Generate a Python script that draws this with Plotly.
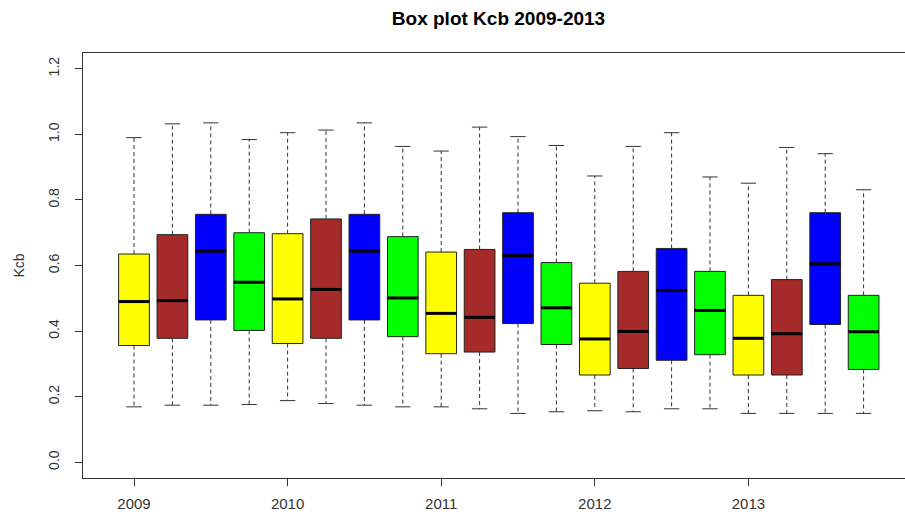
import plotly.graph_objects as go

# Kcb box statistics, four groups per year (2009-2013)
years = ["2009", "2010", "2011", "2012", "2013"]
group_colors = ["#FFFF00", "#A52A2A", "#0000FF", "#00FF00"]

lower = [0.169, 0.174, 0.174, 0.176, 0.188, 0.179, 0.174, 0.169, 0.169, 0.163,
         0.149, 0.154, 0.157, 0.154, 0.163, 0.163, 0.149, 0.149, 0.149, 0.149]
q1 = [0.356, 0.378, 0.434, 0.402, 0.362, 0.378, 0.434, 0.383, 0.331, 0.336,
      0.423, 0.359, 0.266, 0.286, 0.311, 0.328, 0.266, 0.266, 0.420, 0.283]
median = [0.490, 0.493, 0.644, 0.549, 0.498, 0.527, 0.644, 0.501, 0.454, 0.442,
          0.630, 0.471, 0.376, 0.399, 0.524, 0.463, 0.378, 0.392, 0.605, 0.398]
q3 = [0.635, 0.694, 0.756, 0.700, 0.697, 0.742, 0.756, 0.688, 0.641, 0.649,
      0.761, 0.609, 0.546, 0.582, 0.652, 0.582, 0.509, 0.557, 0.761, 0.509]
upper = [0.990, 1.032, 1.035, 0.984, 1.005, 1.013, 1.035, 0.963, 0.949, 1.022,
         0.993, 0.966, 0.873, 0.963, 1.005, 0.870, 0.851, 0.960, 0.941, 0.831]

n = len(median)
pos = list(range(1, n + 1))
colors = [group_colors[i % 4] for i in range(n)]
year_pos = [1 + 4 * i for i in range(len(years))]

BOXW = 0.8
CAPW = 0.4
FONT = "Liberation Sans, Arial, sans-serif"

fig = go.Figure()

# boxes (Q1 to Q3)
fig.add_trace(go.Bar(
    x=pos, y=[b - a for a, b in zip(q1, q3)], base=q1, width=BOXW,
    marker=dict(color=colors, line=dict(color="#222222", width=1)),
    hoverinfo="skip", showlegend=False,
))

# dashed whiskers
wx, wy = [], []
for p, lo, a, b, hi in zip(pos, lower, q1, q3, upper):
    wx += [p, p, None, p, p, None]
    wy += [b, hi, None, a, lo, None]
fig.add_trace(go.Scatter(x=wx, y=wy, mode="lines", hoverinfo="skip",
                         line=dict(color="#333333", width=1, dash="4px,3px"),
                         showlegend=False))

# whisker caps
cx, cy = [], []
for p, lo, hi in zip(pos, lower, upper):
    cx += [p - CAPW / 2, p + CAPW / 2, None, p - CAPW / 2, p + CAPW / 2, None]
    cy += [hi, hi, None, lo, lo, None]
fig.add_trace(go.Scatter(x=cx, y=cy, mode="lines", hoverinfo="skip",
                         line=dict(color="#333333", width=1), showlegend=False))

# medians
mx, my = [], []
for p, m in zip(pos, median):
    mx += [p - BOXW / 2, p + BOXW / 2, None]
    my += [m, m, None]
fig.add_trace(go.Scatter(x=mx, y=my, mode="lines", hoverinfo="skip",
                         line=dict(color="#000000", width=3), showlegend=False))

W, H = 905, 516
ML, MR, MT, MB = 83, 0, 53, 38
px_per_box = 38.4
x0 = 1 - (134 - ML) / px_per_box
x1 = x0 + (W - ML - MR) / px_per_box

fig.update_layout(
    width=W, height=H,
    margin=dict(l=ML, r=MR, t=MT, b=MB),
    paper_bgcolor="white", plot_bgcolor="white",
    font=dict(family=FONT, size=14, color="#333333"),
    barmode="overlay",
    title=dict(text="<b>Box plot Kcb 2009-2013</b>", x=(498.5 - ML) / (W - ML - MR),
               xref="paper", xanchor="center", yref="container",
               y=1 - 18.5 / H, yanchor="middle",
               font=dict(family=FONT, size=19, color="#000000")),
    xaxis=dict(range=[x0, x1], tickvals=year_pos, ticktext=years,
               showline=True, linecolor="#333333", linewidth=1, mirror=True,
               ticks="outside", ticklen=7, tickcolor="#333333",
               showgrid=False, zeroline=False, ticklabelstandoff=5,
               tickfont=dict(size=15, color="#333333")),
    yaxis=dict(range=[-0.048, 1.248], tickvals=[0, 0.2, 0.4, 0.6, 0.8, 1.0, 1.2],
               tickformat=".1f", tickangle=-90,
               showline=True, linecolor="#333333", linewidth=1,
               ticks="outside", ticklen=7, tickcolor="#333333",
               showgrid=False, zeroline=False, ticklabelstandoff=10,
               tickfont=dict(size=14, color="#333333")),
    annotations=[dict(text="Kcb", textangle=-90, xref="paper", yref="paper",
                      x=0, y=0.5, xanchor="center", yanchor="middle",
                      xshift=-(ML - 18), showarrow=False,
                      font=dict(family=FONT, size=14, color="#333333"))],
)

fig.write_html("out.html")
